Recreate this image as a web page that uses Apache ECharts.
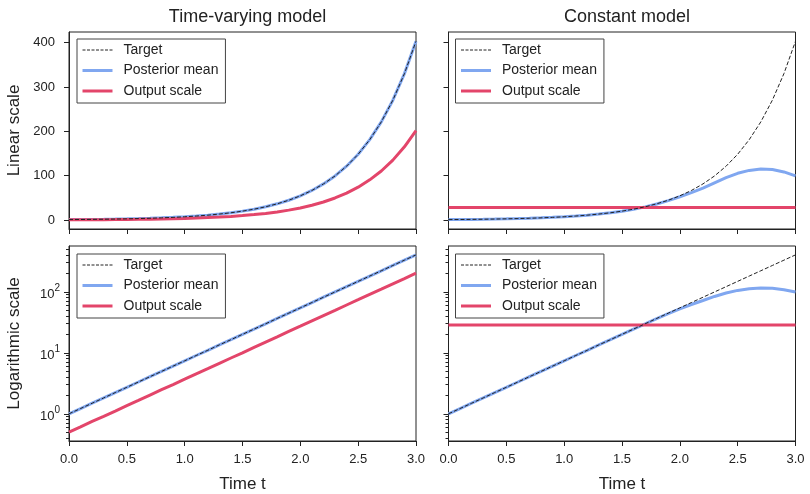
<!DOCTYPE html>
<html>
<head>
<meta charset="utf-8">
<script src="https://cdn.jsdelivr.net/npm/echarts@6/dist/echarts.min.js"></script>
<style>
  html, body { margin: 0; padding: 0; background: #fff; }
  #chart { width: 810px; height: 494px; }
</style>
</head>
<body>
<div id="chart"></div>
<script>
// time t
const times = [0.0, 0.1, 0.2, 0.3, 0.4, 0.5, 0.6, 0.7, 0.8, 0.9, 1.0,
  1.1, 1.2, 1.3, 1.4, 1.5, 1.6, 1.7, 1.8, 1.9, 2.0,
  2.1, 2.2, 2.3, 2.4, 2.5, 2.6, 2.7, 2.8, 2.9, 3.0];

// target (the time-varying posterior mean sits right on it)
const target = [1.0, 1.22, 1.49, 1.82, 2.23, 2.72, 3.32, 4.06, 4.95, 6.05, 7.39,
  9.03, 11.0, 13.5, 16.4, 20.1, 24.5, 29.9, 36.6, 44.7, 54.6,
  66.7, 81.5, 99.5, 121.5, 148.4, 181.3, 221.4, 270.4, 330.3, 403.4];
const tvPosterior = [1.0, 1.22, 1.49, 1.82, 2.23, 2.72, 3.32, 4.06, 4.95, 6.05, 7.39,
  9.03, 11.0, 13.5, 16.4, 20.1, 24.5, 29.9, 36.6, 44.7, 54.6,
  66.7, 81.5, 99.5, 121.5, 148.4, 181.3, 221.4, 270.4, 330.3, 403.4];
const tvOutputScale = [0.5, 0.61, 0.75, 0.91, 1.11, 1.36, 1.66, 2.03, 2.48, 3.02, 3.69,
  4.52, 5.51, 6.73, 8.22, 10.0, 12.3, 15.0, 18.3, 22.4, 27.3,
  33.4, 40.8, 49.8, 60.8, 74.2, 90.7, 110.7, 135.2, 165.1, 201.7];

// constant model
const constPosterior = [1.0, 1.22, 1.49, 1.82, 2.23, 2.72, 3.32, 4.06, 4.95, 6.05, 7.39,
  9.03, 11.0, 13.5, 16.4, 20.0, 24.4, 29.7, 36.2, 43.8, 52.5,
  62.0, 72.0, 84.0, 95.5, 105.5, 112.0, 115.0, 114.0, 108.5, 99.5];
const constOutputScale = [28.5, 28.5];
const constTimes = [0.0, 3.0];

// ticks
const linearTicks = [0, 100, 200, 300, 400];
const logTicks = [1, 10, 100];
const logMinorTicks = [0.4, 0.5, 0.6, 0.7, 0.8, 0.9, 2, 3, 4, 5, 6, 7, 8, 9,
  20, 30, 40, 50, 60, 70, 80, 90, 200, 300, 400, 500];

const FONT = '"Liberation Sans", Arial, sans-serif';
const INK = '#222';
const BLUE = '#80a7f0';
const RED = '#e3456a';

const zip = (xs, ys) => xs.map((x, i) => [x, ys[i]]);

const chart = echarts.init(document.getElementById('chart'), null, { renderer: 'canvas' });

const grids = [
  { left: 69, top: 32, width: 347, height: 197 },
  { left: 448.5, top: 32, width: 347, height: 197 },
  { left: 69, top: 246, width: 347, height: 197 },
  { left: 448.5, top: 246, width: 347, height: 197 }
].map(g => Object.assign(g, { show: true, borderColor: INK, borderWidth: 1 }));

function xAxis(i, bottom) {
  return {
    type: 'value', gridIndex: i, min: 0, max: 3, interval: 0.5,
    name: bottom ? 'Time t' : '', nameLocation: 'middle', nameGap: 35,
    nameTextStyle: { fontFamily: FONT, fontSize: 17, color: INK },
    axisLine: { show: true, onZero: false, lineStyle: { color: INK } },
    axisTick: { show: true, length: 5, lineStyle: { color: INK } },
    axisLabel: { show: bottom, margin: 12, fontFamily: FONT, fontSize: 13, color: INK,
      formatter: v => v.toFixed(1) },
    splitLine: { show: false }
  };
}

function linearY(i, name) {
  return {
    type: 'value', gridIndex: i, min: -20.2, max: 424.2, position: 'left',
    name: name, nameLocation: 'middle', nameGap: 46,
    nameTextStyle: { fontFamily: FONT, fontSize: 17, color: INK },
    axisLine: { show: true, onZero: false, lineStyle: { color: INK } },
    axisTick: { show: true, length: 5, customValues: linearTicks, lineStyle: { color: INK } },
    axisLabel: { show: !!name, customValues: linearTicks, margin: 14, fontFamily: FONT, fontSize: 13, color: INK },
    splitLine: { show: false }
  };
}

function logY(i, name) {
  return {
    type: 'log', logBase: 10, gridIndex: i, min: 0.358, max: 564, position: 'left',
    name: name, nameLocation: 'middle', nameGap: 46,
    nameTextStyle: { fontFamily: FONT, fontSize: 17, color: INK },
    axisLine: { show: true, onZero: false, lineStyle: { color: INK } },
    axisTick: { show: true, length: 5, customValues: logTicks, lineStyle: { color: INK } },
    axisLabel: { show: !!name, customValues: logTicks, margin: 9, color: INK,
      formatter: v => '{b|10}{s|' + Math.round(Math.log10(v)) + '}',
      rich: {
        b: { fontFamily: FONT, fontSize: 13, color: INK, lineHeight: 18, verticalAlign: 'bottom' },
        s: { fontFamily: FONT, fontSize: 10, color: INK, lineHeight: 10, verticalAlign: 'top' }
      } },
    splitLine: { show: false }
  };
}

function minorY(i) {
  return {
    type: 'log', logBase: 10, gridIndex: i, min: 0.358, max: 564,
    position: 'left', offset: 0,
    axisLine: { show: false, onZero: false },
    axisTick: { show: true, length: 3, customValues: logMinorTicks, lineStyle: { color: INK } },
    axisLabel: { show: false },
    splitLine: { show: false }
  };
}

function panelSeries(i, yIdx, post, outX, outY) {
  return [
    { name: 'Posterior mean', type: 'line', xAxisIndex: i, yAxisIndex: yIdx,
      data: zip(times, post), showSymbol: false, symbol: 'none',
      color: BLUE, lineStyle: { color: BLUE, width: 3 }, z: 3 },
    { name: 'Output scale', type: 'line', xAxisIndex: i, yAxisIndex: yIdx,
      data: zip(outX, outY), showSymbol: false, symbol: 'none',
      color: RED, lineStyle: { color: RED, width: 3 }, z: 4 },
    { name: 'Target', type: 'line', xAxisIndex: i, yAxisIndex: yIdx,
      data: zip(times, target), showSymbol: false, symbol: 'none',
      color: INK, lineStyle: { color: INK, width: 1, type: [4, 2] }, z: 5 }
  ];
}

function legend(left, top) {
  return {
    left: left, top: top, orient: 'vertical',
    data: [
      { name: 'Target', lineStyle: { width: 1, type: [3, 1.5] } },
      { name: 'Posterior mean', lineStyle: { width: 3 } },
      { name: 'Output scale', lineStyle: { width: 3 } }
    ],
    itemWidth: 30, itemHeight: 14, itemGap: 6.5,
    padding: [4, 7, 5, 4],
    borderColor: '#444', borderWidth: 1, borderRadius: 0,
    backgroundColor: 'rgba(255,255,255,0.8)',
    itemStyle: { opacity: 0 },
    textStyle: { fontFamily: FONT, fontSize: 14, color: INK, padding: [0, 0, 0, 6] },
    selectedMode: false
  };
}

chart.setOption({
  animation: false,
  backgroundColor: '#fff',
  title: [
    { text: 'Time-varying model', left: 242.5, top: 3, textAlign: 'center',
      textStyle: { fontFamily: FONT, fontSize: 18, fontWeight: 'normal', color: INK } },
    { text: 'Constant model', left: 622, top: 3, textAlign: 'center',
      textStyle: { fontFamily: FONT, fontSize: 18, fontWeight: 'normal', color: INK } }
  ],
  grid: grids,
  legend: [legend(77, 39), legend(455.5, 39), legend(77, 254), legend(455.5, 254)],
  xAxis: [xAxis(0, false), xAxis(1, false), xAxis(2, true), xAxis(3, true)],
  yAxis: [linearY(0, 'Linear scale'), linearY(1, ''), logY(2, 'Logarithmic scale'), logY(3, ''),
    minorY(2), minorY(3)],
  series: [].concat(
    panelSeries(0, 0, tvPosterior, times, tvOutputScale),
    panelSeries(1, 1, constPosterior, constTimes, constOutputScale),
    panelSeries(2, 2, tvPosterior, times, tvOutputScale),
    panelSeries(3, 3, constPosterior, constTimes, constOutputScale)
  )
});
</script>
</body>
</html>
